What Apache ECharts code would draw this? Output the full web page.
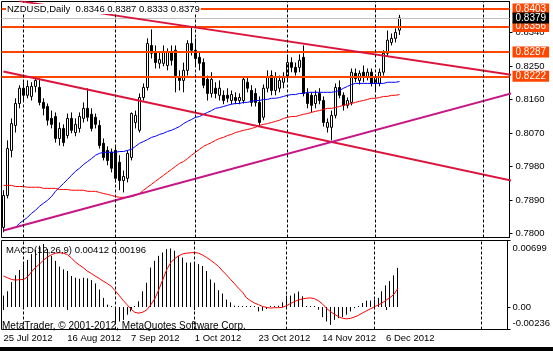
<!DOCTYPE html>
<html>
<head>
<meta charset="utf-8">
<script src="https://cdn.jsdelivr.net/npm/echarts@6.0.0/dist/echarts.min.js"></script>
<style>
  html, body { margin: 0; padding: 0; background: #fff; }
  #chart { width: 553px; height: 351px; }
</style>
</head>
<body>
<div id="chart"></div>
<script>
// NZDUSD daily, 25 Jul 2012 .. 11 Dec 2012
const symbolName = 'NZDUSD,Daily'
const firstDate = [2012, 6, 25]
const totalSlots = 127
const monthStarts = [5, 28, 48, 71, 93, 120]
const dateLabelStep = 16

const priceTicks = [0.8340, 0.8250, 0.8160, 0.8070, 0.7980, 0.7890, 0.7800]
const levels = [0.8403, 0.8356, 0.8287, 0.8222]
const bidPrice = 0.8379

// [open, close, low, high]
const candles = [
  [0.7816, 0.7902, 0.7803, 0.7916], [0.7902, 0.8028, 0.7894, 0.8050], [0.8023, 0.8095, 0.8004, 0.8109], [0.8090, 0.8149, 0.8071, 0.8163],
  [0.8149, 0.8190, 0.8136, 0.8198], [0.8190, 0.8171, 0.8157, 0.8206], [0.8171, 0.8195, 0.8163, 0.8211], [0.8168, 0.8195, 0.8157, 0.8206],
  [0.8195, 0.8211, 0.8179, 0.8219], [0.8192, 0.8152, 0.8144, 0.8216], [0.8152, 0.8136, 0.8117, 0.8163], [0.8141, 0.8104, 0.8090, 0.8149],
  [0.8109, 0.8093, 0.8082, 0.8130], [0.8114, 0.8055, 0.8044, 0.8125], [0.8055, 0.8082, 0.8036, 0.8098], [0.8082, 0.8044, 0.8034, 0.8093],
  [0.8063, 0.8109, 0.8055, 0.8122], [0.8109, 0.8077, 0.8069, 0.8125], [0.8071, 0.8093, 0.8061, 0.8109], [0.8082, 0.8114, 0.8071, 0.8125],
  [0.8109, 0.8136, 0.8098, 0.8152], [0.8136, 0.8112, 0.8101, 0.8190], [0.8120, 0.8082, 0.8074, 0.8136], [0.8112, 0.8093, 0.8082, 0.8122],
  [0.8090, 0.8036, 0.8028, 0.8104], [0.8042, 0.8004, 0.7996, 0.8055], [0.8023, 0.7996, 0.7983, 0.8034], [0.8018, 0.7975, 0.7964, 0.8028],
  [0.8023, 0.7948, 0.7937, 0.8034], [0.7991, 0.7942, 0.7916, 0.8010], [0.7942, 0.7953, 0.7910, 0.7969], [0.7948, 0.8015, 0.7937, 0.8023],
  [0.8004, 0.8122, 0.7996, 0.8125], [0.8098, 0.8117, 0.8082, 0.8130], [0.8077, 0.8165, 0.8071, 0.8176], [0.8165, 0.8192, 0.8157, 0.8203],
  [0.8192, 0.8310, 0.8184, 0.8324], [0.8305, 0.8284, 0.8270, 0.8348], [0.8286, 0.8259, 0.8243, 0.8305], [0.8257, 0.8267, 0.8243, 0.8286],
  [0.8257, 0.8286, 0.8249, 0.8305], [0.8251, 0.8286, 0.8238, 0.8297], [0.8286, 0.8265, 0.8251, 0.8305], [0.8292, 0.8224, 0.8179, 0.8305],
  [0.8219, 0.8211, 0.8184, 0.8238], [0.8211, 0.8238, 0.8179, 0.8259], [0.8238, 0.8310, 0.8224, 0.8319], [0.8310, 0.8292, 0.8278, 0.8353],
  [0.8292, 0.8270, 0.8251, 0.8324], [0.8273, 0.8257, 0.8238, 0.8286], [0.8259, 0.8198, 0.8190, 0.8270], [0.8214, 0.8176, 0.8157, 0.8224],
  [0.8176, 0.8214, 0.8165, 0.8233], [0.8190, 0.8176, 0.8163, 0.8206], [0.8171, 0.8190, 0.8157, 0.8211], [0.8171, 0.8157, 0.8147, 0.8184],
  [0.8171, 0.8163, 0.8152, 0.8190], [0.8157, 0.8173, 0.8147, 0.8184], [0.8165, 0.8157, 0.8147, 0.8179], [0.8157, 0.8165, 0.8147, 0.8176],
  [0.8157, 0.8214, 0.8149, 0.8222], [0.8206, 0.8190, 0.8179, 0.8222], [0.8184, 0.8152, 0.8141, 0.8198], [0.8176, 0.8152, 0.8141, 0.8190],
  [0.8152, 0.8098, 0.8087, 0.8168], [0.8112, 0.8190, 0.8104, 0.8200], [0.8190, 0.8219, 0.8179, 0.8238], [0.8224, 0.8184, 0.8171, 0.8238],
  [0.8184, 0.8219, 0.8171, 0.8233], [0.8190, 0.8211, 0.8179, 0.8224], [0.8206, 0.8222, 0.8190, 0.8233], [0.8219, 0.8259, 0.8211, 0.8278],
  [0.8259, 0.8246, 0.8233, 0.8273], [0.8246, 0.8233, 0.8224, 0.8259], [0.8246, 0.8265, 0.8233, 0.8281], [0.8273, 0.8176, 0.8168, 0.8305],
  [0.8176, 0.8149, 0.8136, 0.8190], [0.8171, 0.8144, 0.8125, 0.8179], [0.8149, 0.8171, 0.8136, 0.8184], [0.8176, 0.8157, 0.8147, 0.8190],
  [0.8157, 0.8098, 0.8087, 0.8168], [0.8085, 0.8098, 0.8071, 0.8109], [0.8085, 0.8117, 0.8050, 0.8130], [0.8117, 0.8192, 0.8109, 0.8203],
  [0.8192, 0.8171, 0.8163, 0.8211], [0.8171, 0.8144, 0.8130, 0.8179], [0.8144, 0.8157, 0.8136, 0.8165], [0.8152, 0.8233, 0.8144, 0.8243],
  [0.8230, 0.8216, 0.8206, 0.8243], [0.8211, 0.8230, 0.8200, 0.8238], [0.8233, 0.8219, 0.8206, 0.8251], [0.8219, 0.8233, 0.8211, 0.8243],
  [0.8233, 0.8203, 0.8195, 0.8243], [0.8203, 0.8219, 0.8184, 0.8227], [0.8203, 0.8233, 0.8195, 0.8243], [0.8233, 0.8284, 0.8224, 0.8292],
  [0.8284, 0.8319, 0.8276, 0.8345], [0.8313, 0.8324, 0.8305, 0.8337], [0.8324, 0.8340, 0.8313, 0.8351], [0.8346, 0.8379, 0.8333, 0.8387]
]

const maBlue = [
  null, null, null, 0.7816, 0.7827, 0.7835, 0.7843, 0.7854, 0.7862, 0.7873,
  0.7881, 0.7889, 0.7899, 0.7913, 0.7924, 0.7934, 0.7945, 0.7956, 0.7967, 0.7975,
  0.7985, 0.7993, 0.8001, 0.8010, 0.8015, 0.8018, 0.8018, 0.8018, 0.8018, 0.8020,
  0.8020, 0.8023, 0.8026, 0.8034, 0.8042, 0.8047, 0.8052, 0.8058, 0.8061, 0.8066,
  0.8069, 0.8074, 0.8077, 0.8082, 0.8087, 0.8095, 0.8101, 0.8106, 0.8112, 0.8114,
  0.8120, 0.8125, 0.8130, 0.8136, 0.8138, 0.8141, 0.8144, 0.8147, 0.8149, 0.8149,
  0.8152, 0.8152, 0.8155, 0.8157, 0.8157, 0.8160, 0.8160, 0.8163, 0.8163, 0.8165,
  0.8168, 0.8171, 0.8173, 0.8173, 0.8176, 0.8176, 0.8179, 0.8179, 0.8179, 0.8179,
  0.8179, 0.8179, 0.8179, 0.8181, 0.8184, 0.8190, 0.8195, 0.8200, 0.8203, 0.8203,
  0.8203, 0.8203, 0.8203, 0.8203, 0.8203, 0.8203, 0.8206, 0.8206, 0.8206, 0.8208
]

const maRed = [
  0.7929, 0.7929, 0.7929, 0.7926, 0.7926, 0.7926, 0.7924, 0.7924, 0.7924, 0.7924,
  0.7921, 0.7921, 0.7921, 0.7921, 0.7918, 0.7918, 0.7918, 0.7916, 0.7916, 0.7916,
  0.7916, 0.7913, 0.7913, 0.7913, 0.7910, 0.7907, 0.7905, 0.7902, 0.7899, 0.7897,
  0.7897, 0.7897, 0.7899, 0.7902, 0.7907, 0.7916, 0.7924, 0.7932, 0.7940, 0.7948,
  0.7956, 0.7964, 0.7972, 0.7980, 0.7988, 0.7993, 0.8001, 0.8010, 0.8018, 0.8026,
  0.8034, 0.8039, 0.8044, 0.8050, 0.8055, 0.8058, 0.8063, 0.8066, 0.8071, 0.8074,
  0.8077, 0.8079, 0.8082, 0.8085, 0.8090, 0.8093, 0.8095, 0.8098, 0.8101, 0.8104,
  0.8109, 0.8112, 0.8114, 0.8114, 0.8117, 0.8120, 0.8122, 0.8125, 0.8128, 0.8130,
  0.8133, 0.8136, 0.8136, 0.8138, 0.8141, 0.8144, 0.8147, 0.8149, 0.8152, 0.8155,
  0.8157, 0.8160, 0.8163, 0.8163, 0.8165, 0.8168, 0.8168, 0.8171, 0.8171, 0.8173
]

// trend lines, [bar index, price]
const lineUpper = [[4, 0.8424], [127, 0.8226]]
const lineLower = [[-0.4, 0.8235], [127, 0.7942]]
const lineSupport = [[-0.4, 0.7808], [127, 0.8176]]

const macdParams = 'MACD(12,26,9)'
const macdTicks = [0.00699, 0.00, -0.00236]
const macdTickText = ['0.00699', '0.00', '-0.00236']
const macdMain = [
  0.00120, 0.00166, 0.00262, 0.00333, 0.00389, 0.00450, 0.00496, 0.00556, 0.00602, 0.00644,
  0.00662, 0.00609, 0.00538, 0.00485, 0.00425, 0.00396, 0.00379, 0.00326, 0.00308, 0.00297,
  0.00308, 0.00301, 0.00283, 0.00248, 0.00184, 0.00096, 0.00025, -0.00010, -0.00170, -0.00152,
  -0.00135, -0.00081, -0.00046, 0.00010, 0.00060, 0.00166, 0.00255, 0.00414, 0.00485, 0.00538,
  0.00573, 0.00609, 0.00616, 0.00591, 0.00538, 0.00520, 0.00467, 0.00467, 0.00467, 0.00450,
  0.00432, 0.00379, 0.00290, 0.00255, 0.00177, 0.00142, 0.00078, 0.00050, 0.00014, 0.00000,
  0.00007, 0.00007, 0.00007, -0.00004, -0.00046, -0.00039, -0.00021, -0.00004, 0.00001, 0.00014,
  0.00050, 0.00120, 0.00120, 0.00142, 0.00163, 0.00113, 0.00007, 0.00000, 0.00000, -0.00028,
  -0.00106, -0.00152, -0.00188, -0.00135, -0.00117, -0.00106, -0.00081, -0.00046, -0.00011, 0.00000,
  0.00042, 0.00067, 0.00067, 0.00078, 0.00096, 0.00166, 0.00227, 0.00273, 0.00333, 0.00412
]
const macdSignal = [
  0.00326, 0.00308, 0.00290, 0.00283, 0.00287, 0.00290, 0.00315, 0.00368, 0.00414, 0.00450,
  0.00492, 0.00524, 0.00549, 0.00566, 0.00570, 0.00566, 0.00552, 0.00517, 0.00474, 0.00443,
  0.00414, 0.00379, 0.00354, 0.00326, 0.00301, 0.00273, 0.00248, 0.00219, 0.00173, 0.00124,
  0.00071, 0.00025, -0.00021, -0.00057, -0.00064, -0.00053, -0.00028, 0.00025, 0.00089, 0.00184,
  0.00290, 0.00396, 0.00467, 0.00510, 0.00538, 0.00559, 0.00566, 0.00570, 0.00573, 0.00566,
  0.00545, 0.00520, 0.00492, 0.00460, 0.00425, 0.00379, 0.00336, 0.00290, 0.00244, 0.00198,
  0.00156, 0.00096, 0.00067, 0.00042, 0.00025, 0.00007, -0.00004, -0.00011, -0.00007, -0.00007,
  -0.00004, 0.00014, 0.00035, 0.00057, 0.00074, 0.00085, 0.00092, 0.00096, 0.00089, 0.00067,
  0.00035, -0.00011, -0.00046, -0.00074, -0.00099, -0.00117, -0.00124, -0.00120, -0.00106, -0.00089,
  -0.00064, -0.00042, -0.00021, 0.00000, 0.00021, 0.00042, 0.00071, 0.00099, 0.00134, 0.00196
]

const FONT = 'Liberation Sans'
const monthNames = ['Jan', 'Feb', 'Mar', 'Apr', 'May', 'Jun', 'Jul', 'Aug', 'Sep', 'Oct', 'Nov', 'Dec']

// trading days (no weekends), then empty slots for the shift area
const dates = []
const d = new Date(firstDate[0], firstDate[1], firstDate[2])
while (dates.length < candles.length) {
  if (d.getDay() !== 0 && d.getDay() !== 6) {
    dates.push(d.getDate() + ' ' + monthNames[d.getMonth()] + ' ' + d.getFullYear())
  }
  d.setDate(d.getDate() + 1)
}
while (dates.length < totalSlots) dates.push('')

const last = candles[candles.length - 1]
const header = symbolName + '  ' + [last[0], last[3], last[2], last[1]].map(v => v.toFixed(4)).join(' ')
const macdHeader = macdParams + ' ' + macdMain[macdMain.length - 1].toFixed(5) + ' ' + macdSignal[macdSignal.length - 1].toFixed(5)

const gridLine = {
  silent: true,
  symbol: 'none',
  label: { show: false },
  lineStyle: { color: '#000', type: [3, 2], width: 1 },
  data: monthStarts.map(i => ({ xAxis: i }))
}

function trend (data, color) {
  return {
    type: 'line',
    data: data,
    symbol: 'none',
    silent: true,
    z: 4,
    lineStyle: { color: color, width: 2 }
  }
}

const levelLabel = (bg) => ({
  show: true,
  position: 'end',
  distance: 3,
  color: '#fff',
  backgroundColor: bg,
  padding: [1, 3, 0, 3],
  fontFamily: FONT,
  fontSize: 10,
  formatter: p => p.value.toFixed(4)
})

// 1px histogram stick, snapped to the pixel grid
function macdStick (params, api) {
  const top = api.coord([api.value(0), api.value(1)])
  const base = api.coord([api.value(0), 0])
  const x = Math.floor(top[0]) + 0.5
  const y2 = Math.abs(top[1] - base[1]) < 1 ? base[1] - 1 : top[1]
  return {
    type: 'line',
    shape: { x1: x, y1: base[1], x2: x, y2: y2 },
    style: { stroke: '#000', lineWidth: 1 }
  }
}

const myChart = echarts.init(document.getElementById('chart'), null, { renderer: 'canvas' })
myChart.setOption({
  animation: false,
  backgroundColor: '#fff',
  title: [
    { text: header, left: 6, top: 4, padding: [0, 1], backgroundColor: '#fff',
      textStyle: { fontFamily: FONT, fontSize: 9.5, fontWeight: 'normal', color: '#000' } },
    { text: macdHeader, left: 6, top: 245, padding: 0,
      textStyle: { fontFamily: FONT, fontSize: 9.5, fontWeight: 'normal', color: '#000' } },
    { text: 'MetaTrader, © 2001-2012, MetaQuotes Software Corp.', left: 2, top: 321, padding: 0,
      textStyle: { fontFamily: FONT, fontSize: 10, fontWeight: 'normal', color: '#000' } }
  ],
  grid: [
    { left: 1.5, top: 1.5, width: 508, height: 236, show: true, borderColor: '#000', borderWidth: 1, backgroundColor: '#fff' },
    { left: 1.5, top: 240.5, width: 508, height: 89, show: true, borderColor: '#000', borderWidth: 1, backgroundColor: '#fff' }
  ],
  xAxis: [
    { type: 'category', gridIndex: 0, data: dates, boundaryGap: true,
      axisLine: { show: false }, axisTick: { show: false }, axisLabel: { show: false }, splitLine: { show: false } },
    { type: 'category', gridIndex: 1, data: dates, boundaryGap: true,
      axisLine: { show: false },
      axisTick: { show: true, alignWithLabel: true, length: 3, lineStyle: { color: '#000' },
        interval: i => i % dateLabelStep === 0 && dates[i] !== '' },
      axisLabel: { show: true, align: 'left', margin: 4, color: '#000', fontFamily: FONT, fontSize: 9.5,
        interval: i => i % dateLabelStep === 0 && dates[i] !== '' },
      splitLine: { show: false } }
  ],
  yAxis: [
    { type: 'value', gridIndex: 0, position: 'right', min: 0.7789, max: 0.8423, scale: true,
      splitLine: { show: false },
      axisLine: { show: true, lineStyle: { color: '#000' } },
      axisTick: { show: true, length: 3, lineStyle: { color: '#000' }, customValues: priceTicks },
      axisLabel: { show: true, margin: 6, color: '#000', fontFamily: FONT, fontSize: 9.5,
        customValues: priceTicks, formatter: v => v.toFixed(4) } },
    { type: 'value', gridIndex: 1, position: 'right', min: macdTicks[2], max: macdTicks[0],
      splitLine: { show: false },
      axisLine: { show: true, lineStyle: { color: '#000' } },
      axisTick: { show: true, length: 3, lineStyle: { color: '#000' }, customValues: macdTicks },
      axisLabel: { show: true, margin: 5, color: '#000', fontFamily: FONT, fontSize: 9.5,
        customValues: macdTicks,
        formatter: v => {
          const k = macdTicks.findIndex(t => Math.abs(t - v) < 1e-7)
          if (k === 0) return '{t|' + macdTickText[k] + '}'
          if (k === 2) return '{b|' + macdTickText[k] + '}'
          return macdTickText[k]
        },
        rich: {
          t: { padding: [16, 0, 0, 0], fontFamily: FONT, fontSize: 9.5, color: '#000' },
          b: { padding: [0, 0, 12, 0], fontFamily: FONT, fontSize: 9.5, color: '#000' }
        } } }
  ],
  series: [
    { type: 'line', xAxisIndex: 0, yAxisIndex: 0, data: [], z: 1, markLine: gridLine },
    { type: 'line', xAxisIndex: 1, yAxisIndex: 1, data: [], z: 1, markLine: gridLine },
    {
      type: 'candlestick', xAxisIndex: 0, yAxisIndex: 0, data: candles, barWidth: 3, z: 2,
      itemStyle: { color: '#fff', color0: '#000', borderColor: '#000', borderColor0: '#000', borderWidth: 1 },
      markLine: {
        silent: true,
        symbol: 'none',
        precision: 4,
        z: 3,
        data: [
          ...levels.map(v => ({ yAxis: v, lineStyle: { color: '#FF4500', width: 2, type: 'solid' }, label: levelLabel('#FF4500') })),
          { yAxis: bidPrice, lineStyle: { color: '#C0C0C0', width: 1, type: 'solid' }, label: levelLabel('#000') }
        ]
      }
    },
    { type: 'line', xAxisIndex: 0, yAxisIndex: 0, data: maBlue, symbol: 'none', z: 3, lineStyle: { color: '#0000FF', width: 1 } },
    { type: 'line', xAxisIndex: 0, yAxisIndex: 0, data: maRed, symbol: 'none', z: 3, lineStyle: { color: '#FF0000', width: 1 } },
    trend(lineUpper, '#DC143C'),
    trend(lineLower, '#DC143C'),
    trend(lineSupport, '#C71585'),
    { type: 'custom', xAxisIndex: 1, yAxisIndex: 1, data: macdMain.map((v, i) => [i, v]),
      encode: { x: 0, y: 1 }, renderItem: macdStick, silent: true, z: 2 },
    { type: 'line', xAxisIndex: 1, yAxisIndex: 1, data: macdSignal, symbol: 'none', z: 3, lineStyle: { color: '#FF0000', width: 1 } }
  ],
  graphic: [
    { type: 'rect', left: 0, top: 347, shape: { width: 553, height: 4 }, style: { fill: '#000' }, z: 100 }
  ]
})
</script>
</body>
</html>
